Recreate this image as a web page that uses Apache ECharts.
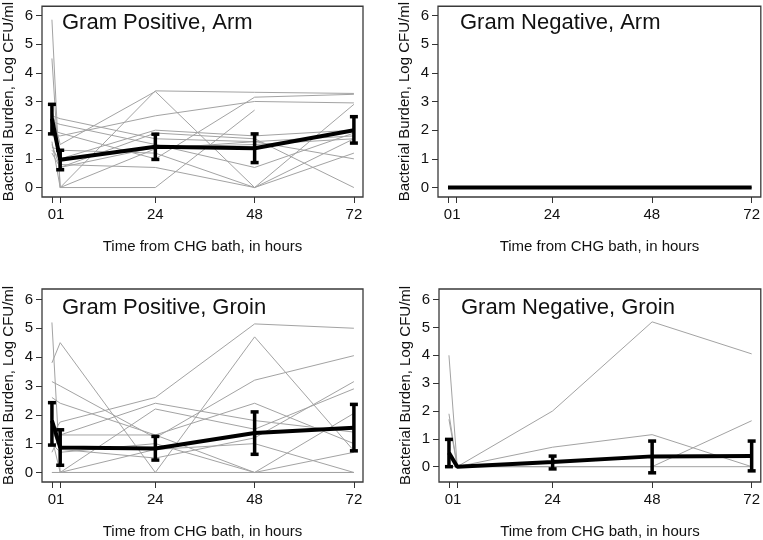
<!DOCTYPE html>
<html>
<head>
<meta charset="utf-8">
<script src="https://cdn.jsdelivr.net/npm/echarts@6/dist/echarts.min.js"></script>
<style>html,body{margin:0;padding:0;background:#fff}#c{width:763px;height:540px}</style>
</head>
<body>
<div id="c"></div>
<script>
// time points (baseline plotted at -1, labelled "0")
const timePoints = [-1, 1, 24, 48, 72];
const timeLabels = ['0', '1', '24', '48', '72'];
const yTicks = [0, 1, 2, 3, 4, 5, 6];

const panelTitles = ['Gram Positive, Arm', 'Gram Negative, Arm', 'Gram Positive, Groin', 'Gram Negative, Groin'];

// individual subjects (values at timePoints), null = missing
const gpArmSubjects = [
  [5.85, 0, 1.35, 1.6, 1.8],
  [4.5, 0, 3.37, 3.32, 3.28],
  [2.7, 1.5, 3.35, 0, 2.9],
  [2.5, 2.4, 1.7, 1.6, 1.0],
  [2.3, 2.2, 1.5, 0.7, 1.9],
  [2.0, 1.9, 1.0, 3.15, 3.25],
  [1.8, 1.8, 2.5, 3.0, 2.95],
  [1.5, 0.7, 1.9, 1.7, 0.0],
  [1.4, 1.3, 1.2, 0.0, 1.7],
  [1.3, 1.0, 2.0, 1.8, 2.0],
  [2.2, 0.8, 0.7, 0.0, 1.2],
  [1.6, 0, 0, 2.7, null],
  [1.2, 0.7, 1.4, 1.5, 1.7]
];
const gnArmSubjects = [
  [0, 0, 0, 0, 0],
  [0, 0, 0, 0, 0],
  [0, 0, 0, 0, 0]
];
const gpGroinSubjects = [
  [5.2, 0, 0, 4.7, 0.75],
  [1.3, 1.75, 2.6, 5.15, 5.0],
  [3.8, 4.5, 0, 0, 0.7],
  [3.15, 3.0, 1.2, 3.2, 4.05],
  [2.6, 2.4, 1.3, 0.0, 0.0],
  [1.7, 1.3, 1.3, 2.4, 1.0],
  [0.7, 1.3, 2.4, 1.8, 1.4],
  [0, 0, 2.2, 1.5, 2.9],
  [1.5, 0.8, 0.5, 1.2, 3.15],
  [1.0, 0.7, 1.0, 0.0, 2.05],
  [0, 0, 0, 0, 0],
  [1.2, 0, 0.8, 1.0, 0]
];
const gnGroinSubjects = [
  [4.0, 0, 2.0, 5.2, 4.05],
  [1.9, 0, 0.7, 1.15, 0.0],
  [1.7, 0, 0, 0, 1.65],
  [0, 0, 0, 0, 0]
];

// means and confidence limits
const gpArmMean = [2.4, 0.97, 1.42, 1.37, 2.0];
const gpArmLow  = [1.87, 0.62, 0.98, 0.87, 1.55];
const gpArmHigh = [2.9, 1.3, 1.86, 1.87, 2.47];

const gnArmMean = [0, 0, 0, 0, 0];
const gnArmLow  = [0, 0, 0, 0, 0];
const gnArmHigh = [0, 0, 0, 0, 0];

const gpGroinMean = [1.8, 0.87, 0.83, 1.37, 1.55];
const gpGroinLow  = [0.95, 0.25, 0.43, 0.63, 0.75];
const gpGroinHigh = [2.42, 1.48, 1.25, 2.1, 2.36];

const gnGroinMean = [0.5, 0.0, 0.17, 0.37, 0.38];
const gnGroinLow  = [0.0, 0.0, -0.08, -0.22, -0.15];
const gnGroinHigh = [0.98, 0.0, 0.38, 0.92, 0.92];

const panels = [
  {subjects: gpArmSubjects, mean: gpArmMean, low: gpArmLow, high: gpArmHigh, ymin: -0.33, ymax: 6.32, grid: {left: 40, top: 4, width: 323, height: 193}},
  {subjects: gnArmSubjects, mean: gnArmMean, low: gnArmLow, high: gnArmHigh, ymin: -0.33, ymax: 6.32, grid: {left: 438, top: 4, width: 324, height: 193}},
  {subjects: gpGroinSubjects, mean: gpGroinMean, low: gpGroinLow, high: gpGroinHigh, ymin: -0.33, ymax: 6.36, grid: {left: 40, top: 289, width: 323, height: 194}},
  {subjects: gnGroinSubjects, mean: gnGroinMean, low: gnGroinLow, high: gnGroinHigh, ymin: -0.55, ymax: 6.38, grid: {left: 439, top: 289, width: 323, height: 194}}
];

const FONT = 'Liberation Sans, Arial, sans-serif';
const grids = [], xAxes = [], yAxes = [], series = [], titles = [];

panels.forEach((p, i) => {
  grids.push(Object.assign({show: true, borderColor: '#3a3a3a', borderWidth: 1.3, backgroundColor: '#fff'}, p.grid));
  xAxes.push({
    type: 'value', gridIndex: i, min: -3.4, max: 74.2,
    name: 'Time from CHG bath, in hours', nameLocation: 'middle', nameGap: 42,
    nameTextStyle: {fontFamily: FONT, fontSize: 15, color: '#111'},
    axisLine: {show: false, onZero: false}, splitLine: {show: false},
    axisTick: {show: true, length: 6, lineStyle: {color: '#333', width: 1}, customValues: timePoints},
    axisLabel: {fontFamily: FONT, fontSize: 15, color: '#111', margin: 10, customValues: timePoints,
      formatter: v => timeLabels[timePoints.indexOf(v)] ?? ''}
  });
  yAxes.push({
    type: 'value', gridIndex: i, min: p.ymin, max: p.ymax,
    name: 'Bacterial Burden, Log CFU/ml', nameLocation: 'middle', nameGap: 26,
    nameTextStyle: {fontFamily: FONT, fontSize: 15, color: '#111'},
    axisLine: {show: false, onZero: false}, splitLine: {show: false},
    axisTick: {show: true, length: 6, lineStyle: {color: '#333', width: 1}, customValues: yTicks},
    axisLabel: {fontFamily: FONT, fontSize: 15, color: '#111', margin: 9, customValues: yTicks}
  });
  titles.push({text: panelTitles[i], left: p.grid.left + 22, top: p.grid.top + 8, padding: 0,
    textStyle: {fontFamily: FONT, fontSize: 22, fontWeight: 'normal', color: '#111'}});
  p.subjects.forEach(s => {
    series.push({type: 'line', xAxisIndex: i, yAxisIndex: i, symbol: 'none', silent: true,
      lineStyle: {color: '#a3a3a3', width: 1}, data: timePoints.map((t, k) => [t, s[k]]), z: 2});
  });
  series.push({type: 'line', xAxisIndex: i, yAxisIndex: i, symbol: 'none', silent: true,
    lineStyle: {color: '#000', width: 4}, data: timePoints.map((t, k) => [t, p.mean[k]]), z: 5});
  series.push({type: 'custom', xAxisIndex: i, yAxisIndex: i, silent: true, z: 6,
    data: timePoints.map((t, k) => [t, p.low[k], p.high[k]]),
    renderItem: (params, api) => {
      const x = api.value(0);
      const a = api.coord([x, api.value(1)]);
      const b = api.coord([x, api.value(2)]);
      if (Math.abs(a[1] - b[1]) < 0.5) return {type: 'group', children: []};
      const hw = 4;
      const st = {stroke: '#000', lineWidth: 3.5};
      return {type: 'group', children: [
        {type: 'line', shape: {x1: a[0], y1: a[1], x2: b[0], y2: b[1]}, style: st},
        {type: 'line', shape: {x1: a[0] - hw, y1: a[1], x2: a[0] + hw, y2: a[1]}, style: st},
        {type: 'line', shape: {x1: b[0] - hw, y1: b[1], x2: b[0] + hw, y2: b[1]}, style: st}
      ]};
    }
  });
});

const chart = echarts.init(document.getElementById('c'), null, {renderer: 'canvas'});
chart.setOption({animation: false, backgroundColor: '#fff', title: titles, grid: grids, xAxis: xAxes, yAxis: yAxes, series: series});
</script>
</body>
</html>
